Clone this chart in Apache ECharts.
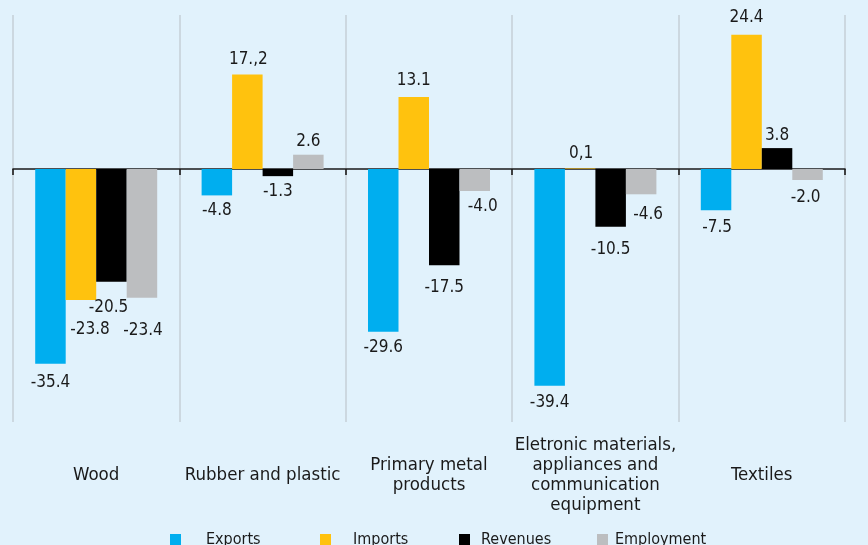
<!DOCTYPE html>
<html>
<head>
<meta charset="utf-8">
<script src="https://cdn.jsdelivr.net/npm/echarts@6/dist/echarts.min.js"></script>
<style>
  html, body { margin: 0; padding: 0; background: #E1F2FC; }
  #chart { width: 868px; height: 545px; }
</style>
</head>
<body>
<div id="chart"></div>
<script>
// ---- data ----
const categories = ['Wood', 'Rubber and plastic', 'Primary metal\nproducts',
  'Eletronic materials,\nappliances and\ncommunication\nequipment', 'Textiles'];
const seriesNames = ['Exports', 'Imports', 'Revenues', 'Employment'];
const exportsVals = [-35.4, -4.8, -29.6, -39.4, -7.5];
const importsVals = [-23.8, 17.2, 13.1, 0.1, 24.4];
const revenuesVals = [-20.5, -1.3, -17.5, -10.5, 3.8];
const employmentVals = [-23.4, 2.6, -4.0, -4.6, -2.0];
// label texts as printed in the source
const exportsLabels = ['-35.4', '-4.8', '-29.6', '-39.4', '-7.5'];
const importsLabels = ['-23.8', '17.,2', '13.1', '0,1', '24.4'];
const revenuesLabels = ['-20.5', '-1.3', '-17.5', '-10.5', '3.8'];
const employmentLabels = ['-23.4', '2.6', '-4.0', '-4.6', '-2.0'];

// ---- styles ----
const colors = ['#00AEEF', '#FFC20E', '#000000', '#BCBEC0'];
const labelNudges = [
  [[0, 5], [0, 2], [0, 2], [0, 3], [1, 4]],
  [[9, 16], [1, -1], [0, -3], [1, -1], [0, -4]],
  [[-3, 12], [0, 2], [0, 9], [0, 9], [0, 1]],
  [[1, 19], [0, 0], [8, 2], [7, 7], [-2, 4]]
];
const FONT = "'DejaVu Sans Condensed', 'DejaVu Sans', sans-serif";

const allVals = [exportsVals, importsVals, revenuesVals, employmentVals];
const allLabels = [exportsLabels, importsLabels, revenuesLabels, employmentLabels];

const series = seriesNames.map((name, s) => ({
  name: name,
  type: 'bar',
  xAxisIndex: 0,
  barWidth: 30.5,
  barGap: '0%',
  itemStyle: { color: colors[s] },
  label: {
    show: true,
    position: 'outside',
    distance: 5,
    color: '#1a1a1a',
    fontFamily: FONT,
    fontSize: 17
  },
  data: allVals[s].map((v, i) => ({
    value: v,
    label: { formatter: allLabels[s][i], offset: labelNudges[s][i] }
  }))
}));

const legendX = [[170, 20], [320, 17], [459, 6], [597, 2]];
const legends = seriesNames.map((name, s) => ({
  data: [name],
  left: legendX[s][0],
  top: 532,
  padding: 0,
  icon: 'rect',
  itemWidth: 11,
  itemHeight: 12,
  textStyle: { fontFamily: FONT, fontSize: 16, color: '#1a1a1a', padding: [0, 0, 0, legendX[s][1]] },
  selectedMode: false
}));

const chart = echarts.init(document.getElementById('chart'), null, { renderer: 'canvas' });
chart.setOption({
  backgroundColor: '#E1F2FC',
  animation: false,
  legend: legends,
  grid: { left: 13, right: 23, top: 15, bottom: 123, containLabel: false },
  xAxis: [
    {
      type: 'category',
      data: categories,
      position: 'bottom',
      axisLine: { show: false, onZero: false },
      axisTick: { show: false },
      splitLine: { show: true, interval: 0, lineStyle: { color: '#CCD8E0', width: 2 } },
      axisLabel: {
        interval: 0,
        margin: 53,
        verticalAlign: 'middle',
        align: 'center',
        fontFamily: FONT,
        fontSize: 18.5,
        lineHeight: 20,
        color: '#1a1a1a'
      }
    },
    {
      type: 'category',
      data: categories,
      position: 'bottom',
      axisLine: { show: true, onZero: true, lineStyle: { color: '#1a1a1a', width: 1.6 } },
      axisTick: { show: true, interval: 0, length: 6, lineStyle: { color: '#1a1a1a', width: 1.6 } },
      axisLabel: { show: false },
      splitLine: { show: false }
    }
  ],
  yAxis: {
    type: 'value',
    min: -46,
    max: 28,
    show: false,
    splitLine: { show: false }
  },
  series: series
});
</script>
</body>
</html>
